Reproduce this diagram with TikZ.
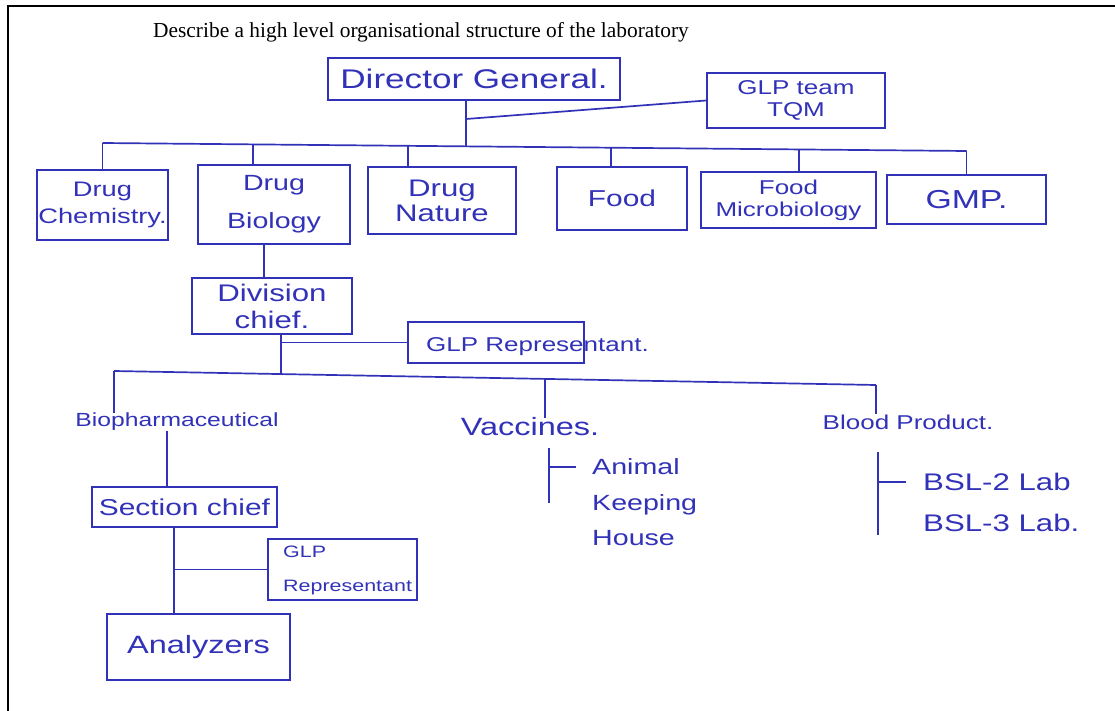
\documentclass[tikz,border=0pt]{standalone}
\usepackage{fontspec}
\setmainfont{Liberation Serif}
\newfontfamily\handfont[FakeStretch=1.3]{Liberation Sans}
\newcommand\hsz[2]{\fontsize{#1}{#2}\selectfont}
\definecolor{ink}{RGB}{50,50,185}
\begin{document}
\begin{tikzpicture}[x=1pt,y=-1pt,
  inkline/.style={draw=ink, line width=1.7pt},
  box/.style={inkline, inner sep=0pt, align=center, text=ink},
  hand/.style={text=ink, inner sep=0pt},
  frame/.style={draw=black, line width=2.6pt}]
\fill[white] (0,0) rectangle (1115,711);
\useasboundingbox (0,0) rectangle (1115,711);
\draw[frame] (1115,6) -- (8,6) -- (8,711);

% title
\node[inner sep=0pt, font=\hsz{21.4}{24}] (title) at (421,32) {Describe a high level organisational structure of the laboratory};

% top level
\node[box, minimum width=292pt, minimum height=42pt, font={\handfont\hsz{27}{30}}] (dg) at (474,79) {Director General.};
\node[box, minimum width=178pt, minimum height=55pt, font={\handfont\hsz{20}{22}}] (tqm) at (796,100.5) {GLP team\\TQM};

% departments
\node[box, minimum width=131pt, minimum height=70pt, font={\handfont\hsz{21}{27}}] (chem) at (102.5,205) {Drug\\Chemistry.};
\node[box, minimum width=152pt, minimum height=79pt, font={\handfont\hsz{22}{38}}] (bio) at (274,204.5) {Drug\\Biology};
\node[box, minimum width=148pt, minimum height=67pt, font={\handfont\hsz{24}{25}}] (nat) at (442,200.5) {Drug\\Nature};
\node[box, minimum width=130pt, minimum height=63pt, font={\handfont\hsz{23}{26}}] (food) at (622,198.5) {Food};
\node[box, minimum width=175pt, minimum height=56pt, font={\handfont\hsz{20}{22}}] (micro) at (788.5,200) {Food\\Microbiology};
\node[box, minimum width=159pt, minimum height=49pt, font={\handfont\hsz{26}{28}}] (gmp) at (966.5,199.5) {GMP.};

% division level
\node[box, minimum width=160pt, minimum height=56pt, font={\handfont\hsz{24}{27}}] (div) at (272,306) {Division\\chief.};
\node[box, minimum width=176pt, minimum height=41pt] (rep) at (496,342.5) {};
\node[hand, font={\handfont\hsz{20}{22}}] (reptext) at (537.5,347) {GLP Representant.};

% sections
\node[hand, font={\handfont\hsz{19}{22}}] (bioph) at (177,422) {Biopharmaceutical};
\node[hand, font={\handfont\hsz{25}{28}}] (vac) at (530,427) {Vaccines.};
\node[hand, font={\handfont\hsz{20}{22}}] (blood) at (908,422) {Blood Product.};

\node[box, minimum width=185pt, minimum height=40pt, font={\handfont\hsz{23}{26}}] (sec) at (184.5,507) {Section chief};
\node[box, minimum width=149pt, minimum height=61pt] (rep2) at (342.5,569.5) {};
\node[hand, anchor=west, align=left, font={\handfont\hsz{16.5}{34}}] (rep2text) at (283,570) {GLP\\Representant};
\node[box, minimum width=183pt, minimum height=66pt, font={\handfont\hsz{25}{28}}] (ana) at (198.5,647) {Analyzers};

\node[hand, anchor=west, align=left, font={\handfont\hsz{22}{35.5}}] (anim) at (592,502.5) {Animal\\Keeping\\House};
\node[hand, anchor=west, align=left, font={\handfont\hsz{24}{41}}] (bsl) at (923,502.5) {BSL-2 Lab\\BSL-3 Lab.};

% connectors: top
\coordinate (j0) at (466,146.4);
\coordinate (jq) at (466,119);
\draw[inkline] (dg.south -| j0) -- (j0);
\draw[inkline] (tqm.west) -- (jq);
\coordinate (b1) at (102.5,143);
\coordinate (b2) at (253,144.4);
\coordinate (b3) at (408,145.8);
\coordinate (b4) at (611,147.7);
\coordinate (b5) at (799,149.5);
\coordinate (b6) at (966.5,151);
\draw[inkline] (b1) -- (b6);
\draw[inkline] (b1) -- (chem.north);
\draw[inkline] (b2) -- (b2 |- bio.north);
\draw[inkline] (b3) -- (b3 |- nat.north);
\draw[inkline] (b4) -- (b4 |- food.north);
\draw[inkline] (b5) -- (b5 |- micro.north);
\draw[inkline] (b6) -- (gmp.north);

% division
\coordinate (dv) at (264,0);
\draw[inkline] (bio.south -| dv) -- (div.north -| dv);
\coordinate (k) at (281,374.1);
\draw[inkline] (div.south -| k) -- (k);
\draw[inkline] (rep.west) -- (rep.west -| k);

% lower bar
\coordinate (c1) at (114,371);
\coordinate (c2) at (545,378.9);
\coordinate (c3) at (876,385);
\draw[inkline] (c1) -- (c3);
\draw[inkline] (c1) -- (c1 |- bioph.north);
\draw[inkline] (c2) -- (c2 |- vac.north);
\draw[inkline] (c3) -- (c3 |- blood.north);

% biopharmaceutical branch
\coordinate (s) at (167,0);
\draw[inkline] (bioph.south -| s) -- (sec.north -| s);
\coordinate (a) at (174,0);
\draw[inkline] (sec.south -| a) -- (ana.north -| a);
\draw[inkline] (rep2.west) -- (rep2.west -| a);

% vaccines branch
\coordinate (vt) at (549,448);
\coordinate (vm) at (549,467);
\coordinate (vb) at (549,503);
\draw[inkline] (vt) -- (vb);
\draw[inkline] (vm) -- ([xshift=-16pt]anim.west |- vm);

% blood branch
\coordinate (bt) at (878,452);
\coordinate (bm) at (878,482);
\coordinate (bb) at (878,535);
\draw[inkline] (bt) -- (bb);
\draw[inkline] (bm) -- ([xshift=-17pt]bsl.west |- bm);
\end{tikzpicture}
\end{document}
